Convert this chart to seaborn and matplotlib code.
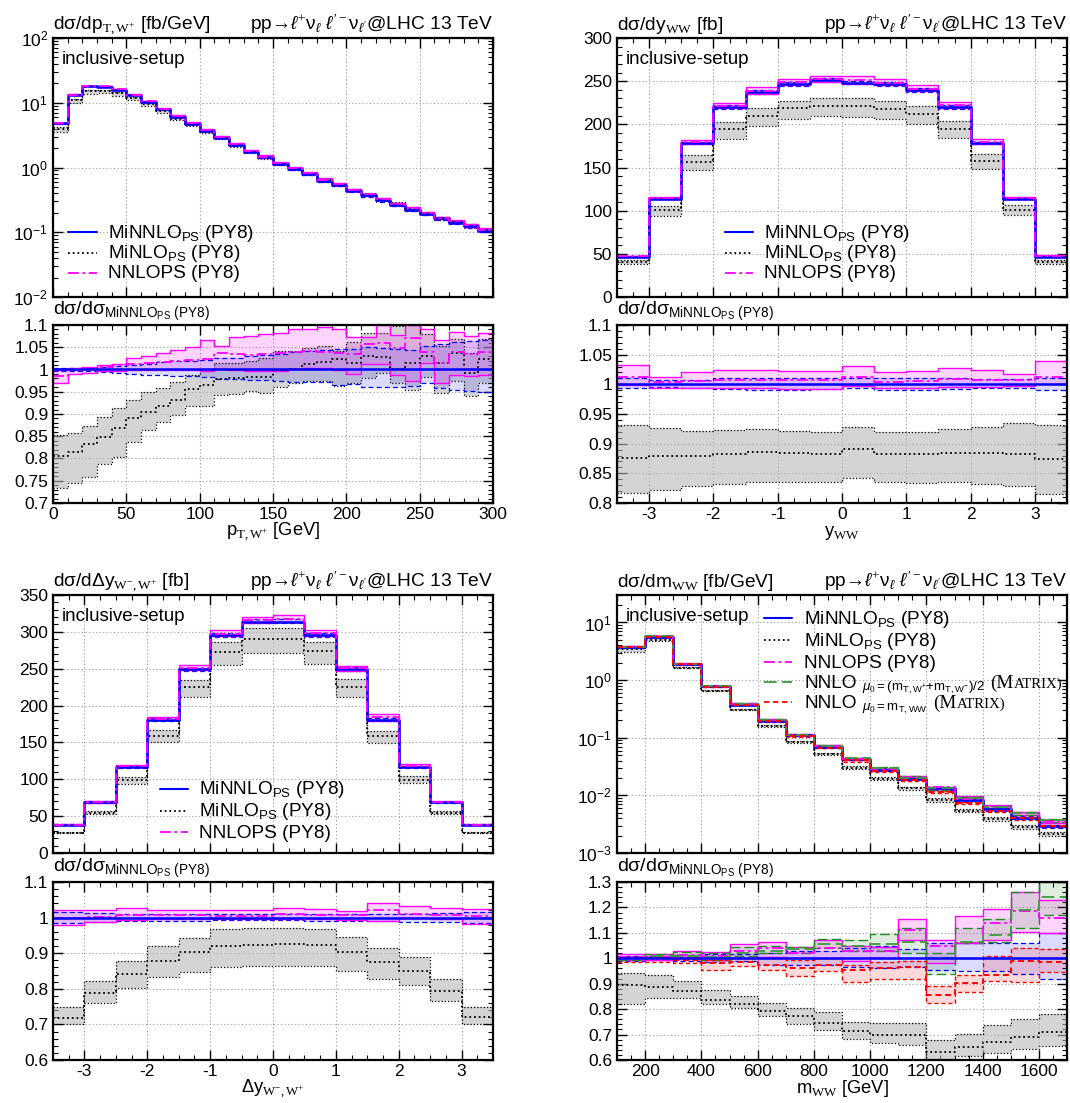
import numpy as np
import matplotlib
matplotlib.use("Agg")
import matplotlib.pyplot as plt
import seaborn as sns
from matplotlib.ticker import MultipleLocator, FuncFormatter, LogLocator, NullFormatter
from matplotlib.transforms import offset_copy

# ---------------- data ----------------
# panel 1 : pT,W+
pt_edges = list(range(0, 310, 10))
pt_minnlo = [4.9, 13.4, 18.0, 17.8, 16.0, 13.1, 10.4, 8.0, 6.1, 4.75, 3.66, 2.9, 2.23, 1.76, 1.43,
             1.14, 0.94, 0.78, 0.62, 0.53, 0.44, 0.37, 0.31, 0.264, 0.223, 0.191, 0.164, 0.141, 0.124, 0.106]
pt_minnlo_hi = [1.003, 1.003, 1.004, 1.006, 1.008, 1.010, 1.013, 1.016, 1.018, 1.020, 1.021, 1.025, 1.026, 1.030, 1.032,
                1.035, 1.040, 1.042, 1.043, 1.045, 1.045, 1.050, 1.048, 1.045, 1.044, 1.052, 1.058, 1.062, 1.064, 1.066]
pt_minnlo_lo = [0.997, 0.997, 0.996, 0.994, 0.992, 0.990, 0.988, 0.987, 0.986, 0.985, 0.983, 0.979, 0.978, 0.977, 0.976,
                0.974, 0.973, 0.972, 0.971, 0.966, 0.968, 0.961, 0.961, 0.961, 0.962, 0.970, 0.958, 0.953, 0.952, 0.950]
pt_minlo_c = [0.806, 0.815, 0.833, 0.848, 0.869, 0.891, 0.905, 0.919, 0.932, 0.957, 0.966, 0.979, 0.981, 0.984, 0.984,
              0.999, 1.000, 1.012, 1.017, 1.023, 1.015, 1.031, 1.027, 1.000, 1.015, 1.031, 1.015, 1.038, 0.993, 1.023]
pt_minlo_hi = [0.852, 0.857, 0.872, 0.893, 0.913, 0.932, 0.950, 0.959, 0.972, 0.987, 1.000, 1.015, 1.014, 1.019, 1.025,
               1.042, 1.042, 1.049, 1.053, 1.042, 1.061, 1.083, 1.083, 1.098, 1.100, 1.080, 1.053, 1.068, 1.038, 1.068]
pt_minlo_lo = [0.734, 0.745, 0.759, 0.787, 0.804, 0.837, 0.865, 0.883, 0.898, 0.919, 0.919, 0.942, 0.945, 0.951, 0.948,
               0.961, 0.970, 0.974, 0.974, 0.963, 0.969, 0.982, 0.993, 0.970, 0.955, 0.983, 0.948, 0.974, 0.940, 0.970]
pt_nnlops_c = [0.985, 0.998, 1.003, 1.006, 1.009, 1.012, 1.014, 1.017, 1.019, 1.021, 1.024, 1.036, 1.034, 1.033, 1.034,
               1.036, 1.040, 1.042, 1.040, 1.038, 1.035, 1.058, 1.060, 1.048, 1.070, 1.040, 1.015, 1.040, 1.035, 1.040]
pt_nnlops_hi = [0.998, 1.003, 1.005, 1.009, 1.013, 1.025, 1.030, 1.038, 1.044, 1.050, 1.067, 1.053, 1.073, 1.075, 1.080,
                1.082, 1.092, 1.092, 1.096, 1.092, 1.072, 1.072, 1.100, 1.078, 1.100, 1.092, 1.066, 1.085, 1.075, 1.082]
pt_nnlops_lo = [0.970, 0.990, 0.993, 0.996, 0.997, 0.998, 0.998, 0.998, 0.999, 0.999, 0.996, 1.000, 0.998, 0.996, 0.996,
                0.997, 1.001, 1.003, 1.003, 0.998, 0.990, 1.013, 1.013, 0.988, 0.975, 1.014, 0.970, 0.988, 0.985, 0.988]

# panel 2 : y_WW
yww_edges = [-3.5, -3.0, -2.5, -2.0, -1.5, -1.0, -0.5, 0.0, 0.5, 1.0, 1.5, 2.0, 2.5, 3.0, 3.5]
yww_minnlo = [46.5, 114, 178, 220, 237, 247, 251, 248, 247, 240, 220, 178, 114, 46.5]
yww_minnlo_hi = [1.011, 1.007, 1.008, 1.010, 1.011, 1.010, 1.011, 1.011, 1.010, 1.011, 1.010, 1.009, 1.009, 1.010]
yww_minnlo_lo = [0.994, 0.996, 0.993, 0.992, 0.991, 0.991, 0.992, 0.993, 0.991, 0.991, 0.992, 0.993, 0.994, 0.990]
yww_minlo_c = [0.876, 0.879, 0.880, 0.883, 0.886, 0.885, 0.883, 0.891, 0.883, 0.882, 0.885, 0.885, 0.883, 0.874]
yww_minlo_hi = [0.932, 0.927, 0.922, 0.923, 0.924, 0.921, 0.919, 0.928, 0.920, 0.920, 0.925, 0.928, 0.934, 0.932]
yww_minlo_lo = [0.817, 0.822, 0.828, 0.832, 0.836, 0.835, 0.835, 0.842, 0.835, 0.834, 0.836, 0.832, 0.829, 0.815]
yww_nnlops_c = [1.012, 1.004, 1.006, 1.007, 1.008, 1.007, 1.007, 1.012, 1.004, 1.005, 1.009, 1.008, 1.008, 1.013]
yww_nnlops_hi = [1.033, 1.012, 1.021, 1.024, 1.025, 1.023, 1.022, 1.031, 1.021, 1.023, 1.028, 1.025, 1.017, 1.039]
yww_nnlops_lo = [0.999, 0.993, 0.993, 0.993, 0.993, 0.992, 0.992, 0.997, 0.993, 0.993, 0.996, 0.996, 0.997, 1.000]

# panel 3 : Delta y W-,W+
dy_edges = [-3.5, -3.0, -2.5, -2.0, -1.5, -1.0, -0.5, 0.0, 0.5, 1.0, 1.5, 2.0, 2.5, 3.0, 3.5]
dy_minnlo = [38.5, 69, 117, 181, 249, 296, 314, 314, 296, 249, 181, 117, 69, 38.5]
dy_minnlo_hi = [1.015, 1.013, 1.011, 1.011, 1.010, 1.010, 1.010, 1.011, 1.010, 1.011, 1.010, 1.011, 1.012, 1.015]
dy_minnlo_lo = [0.985, 0.988, 0.990, 0.991, 0.991, 0.992, 0.992, 0.992, 0.991, 0.991, 0.990, 0.989, 0.988, 0.985]
dy_minlo_c = [0.718, 0.787, 0.841, 0.878, 0.902, 0.920, 0.924, 0.925, 0.924, 0.904, 0.876, 0.850, 0.793, 0.720]
dy_minlo_hi = [0.749, 0.822, 0.878, 0.921, 0.944, 0.968, 0.971, 0.972, 0.967, 0.946, 0.916, 0.888, 0.828, 0.749]
dy_minlo_lo = [0.702, 0.760, 0.803, 0.833, 0.848, 0.861, 0.864, 0.864, 0.864, 0.849, 0.828, 0.812, 0.767, 0.702]
dy_nnlops_c = [1.000, 1.003, 1.006, 1.006, 1.006, 1.005, 1.005, 1.010, 1.008, 1.006, 1.020, 1.010, 1.006, 1.004]
dy_nnlops_hi = [1.021, 1.022, 1.026, 1.022, 1.022, 1.021, 1.021, 1.027, 1.024, 1.018, 1.041, 1.032, 1.026, 1.025]
dy_nnlops_lo = [0.978, 0.988, 0.993, 0.995, 0.995, 0.995, 0.995, 0.996, 0.995, 0.992, 0.990, 1.000, 0.995, 0.982]

# panel 4 : m_WW
mww_edges = [100, 200, 300, 400, 500, 600, 700, 800, 900, 1000, 1100, 1200, 1300, 1400, 1500, 1600, 1700]
mww_minnlo = [3.8, 5.7, 1.89, 0.78, 0.376, 0.199, 0.110, 0.069, 0.0423, 0.028, 0.0191, 0.0132, 0.0083, 0.0057, 0.0041, 0.0030]
mww_minnlo_hi = [1.010, 1.010, 1.012, 1.015, 1.015, 1.020, 1.030, 1.030, 1.040, 1.050, 1.035, 1.060, 1.060, 1.060, 1.060, 1.100]
mww_minnlo_lo = [0.990, 0.994, 0.990, 0.985, 0.990, 0.975, 0.975, 0.975, 0.965, 0.960, 0.965, 0.955, 0.950, 0.950, 0.940, 0.920]
mww_minlo_c = [0.895, 0.889, 0.873, 0.836, 0.819, 0.792, 0.772, 0.746, 0.713, 0.700, 0.697, 0.630, 0.650, 0.670, 0.690, 0.710]
mww_minlo_hi = [0.942, 0.935, 0.911, 0.876, 0.852, 0.823, 0.803, 0.787, 0.750, 0.744, 0.746, 0.679, 0.703, 0.739, 0.760, 0.780]
mww_minlo_lo = [0.819, 0.842, 0.842, 0.820, 0.803, 0.772, 0.743, 0.719, 0.683, 0.666, 0.659, 0.580, 0.614, 0.626, 0.643, 0.657]
mww_nnlops_c = [1.005, 1.005, 1.012, 1.010, 1.030, 1.040, 1.020, 1.040, 1.030, 1.030, 1.110, 1.050, 1.060, 1.140, 1.185, 1.160]
mww_nnlops_hi = [1.018, 1.015, 1.030, 1.025, 1.055, 1.065, 1.045, 1.070, 1.050, 1.045, 1.155, 1.070, 1.165, 1.195, 1.260, 1.230]
mww_nnlops_lo = [0.995, 0.995, 1.000, 0.995, 1.000, 1.005, 1.000, 1.000, 0.990, 1.000, 1.070, 0.980, 1.060, 1.070, 1.105, 1.100]
mww_nnlo1_c = [1.000, 1.010, 1.010, 1.005, 1.020, 1.030, 1.035, 1.055, 1.050, 1.055, 1.065, 1.000, 1.065, 1.090, 1.190, 1.240]
mww_nnlo1_hi = [1.005, 1.015, 1.025, 1.020, 1.045, 1.050, 1.045, 1.075, 1.070, 1.095, 1.120, 1.020, 1.120, 1.155, 1.260, 1.300]
mww_nnlo1_lo = [0.995, 1.000, 1.000, 0.995, 1.010, 1.020, 1.020, 1.040, 1.030, 1.030, 1.020, 0.940, 1.060, 1.065, 1.120, 1.170]
mww_nnlo2_c = [1.000, 1.000, 0.995, 0.980, 0.985, 0.975, 0.960, 0.975, 0.955, 0.960, 0.965, 0.855, 0.902, 0.935, 0.990, 0.985]
mww_nnlo2_hi = [1.005, 1.005, 1.005, 0.995, 1.000, 1.000, 0.995, 1.000, 0.975, 0.985, 0.990, 0.890, 0.935, 1.008, 1.040, 1.035]
mww_nnlo2_lo = [0.985, 0.985, 0.980, 0.955, 0.970, 0.955, 0.930, 0.950, 0.905, 0.920, 0.920, 0.825, 0.869, 0.909, 0.905, 0.945]

lab_minnlo = r"MiNNLO$_{\mathsf{PS}}$ (PY8)"
lab_minlo = r"MiNLO$_{\mathsf{PS}}$ (PY8)"
lab_nnlops = "NNLOPS (PY8)"
lab_nnlo = "NNLO"
lab_nnlo1_sub = r"$\mu_0\mathsf{=(m}_{\mathsf{T,W^{+}}}\mathsf{+m}_{\mathsf{T,W^{-}}}\mathsf{)/2}$"
lab_nnlo2_sub = r"$\mu_0\mathsf{=m}_{\mathsf{T,WW}}$"
lab_matrix = ("(M", "ATRIX)")

# ---------------- style ----------------
sns.set_style("ticks")
plt.rcParams.update({
    "font.family": ["Liberation Sans", "DejaVu Sans"],
    "mathtext.fontset": "custom",
    "mathtext.rm": "Liberation Serif",
    "mathtext.sf": "Liberation Sans",
    "mathtext.it": "Liberation Sans:italic",
    "mathtext.bf": "Liberation Sans:bold",
    "xtick.direction": "in", "ytick.direction": "in",
    "xtick.top": True, "ytick.right": True,
    "xtick.major.size": 7, "ytick.major.size": 7,
    "xtick.minor.size": 3.5, "ytick.minor.size": 3.5,
    "xtick.major.width": 1.0, "ytick.major.width": 1.0,
    "xtick.minor.width": 0.8, "ytick.minor.width": 0.8,
    "xtick.labelsize": 12.5, "ytick.labelsize": 12.5,
    "xtick.major.pad": 3.0, "ytick.major.pad": 3.5,
    "xtick.color": "black", "ytick.color": "black",
    "axes.edgecolor": "black", "axes.linewidth": 1.6,
    "text.color": "black",
})

STY = {
    "minlo": dict(fc="#b8b8b8", alpha=0.6, ec="black", els=(0, (1, 1.6)), elw=0.9,
                  cls=(0, (1, 1.6)), clw=1.3, cc="black"),
    "minnlo": dict(fc="#0000ff", alpha=0.14, ec="#0000ff", els=(0, (4, 2.5)), elw=0.9,
                   cls="-", clw=1.8, cc="#0000ff"),
    "nnlops": dict(fc="#ff00ff", alpha=0.17, ec="#ff00ff", els="-", elw=1.0,
                   cls=(0, (6, 2, 1.5, 2)), clw=1.3, cc="#ff00ff"),
    "nnlo1": dict(fc="#228b22", alpha=0.15, ec="#228b22", els=(0, (7, 3)), elw=1.0,
                  cls=(0, (7, 3)), clw=1.3, cc="#3c9a3c"),
    "nnlo2": dict(fc="#ff0000", alpha=0.15, ec="#ff0000", els=(0, (3, 2)), elw=1.0,
                  cls=(0, (3, 2)), clw=1.4, cc="#ff0000"),
}
LEG = {"minnlo": lab_minnlo, "minlo": lab_minlo, "nnlops": lab_nnlops,
       "nnlo1": lab_nnlo, "nnlo2": lab_nnlo}
SUB = {"nnlo1": lab_nnlo1_sub, "nnlo2": lab_nnlo2_sub}
LEG_FS = 13.7

W, H = 1070, 1103
fig = plt.figure(figsize=(W / 100, H / 100), dpi=100)
renderer = fig.canvas.get_renderer()


def rect(l, r, t, b):
    return [l / W, 1 - b / H, (r - l) / W, (b - t) / H]


def steps(ax, edges, vals, **kw):
    x = np.asarray(edges, float)
    y = np.append(np.asarray(vals, float), vals[-1])
    sns.lineplot(x=x, y=y, drawstyle="steps-post", ax=ax, legend=False,
                 errorbar=None, sort=False, **kw)


def band(ax, edges, lo, hi, s):
    x = np.asarray(edges, float)
    lo2 = np.append(np.asarray(lo, float), lo[-1])
    hi2 = np.append(np.asarray(hi, float), hi[-1])
    ax.fill_between(x, lo2, hi2, step="post", facecolor=s["fc"], alpha=s["alpha"], linewidth=0)
    steps(ax, edges, lo, color=s["ec"], linestyle=s["els"], linewidth=s["elw"])
    steps(ax, edges, hi, color=s["ec"], linestyle=s["els"], linewidth=s["elw"])


def fmt_g(v, p):
    return f"{v:g}"


def fmt_log(v, p):
    if v <= 0:
        return ""
    e = int(round(np.log10(v)))
    return f"10$^{{\\mathsf{{{e}}}}}$"


def style_axis(ax):
    ax.grid(True, which="major", linestyle=(0, (1, 2.2)), color="#9a9a9a", linewidth=0.8)
    ax.set_axisbelow(True)
    ax.tick_params(which="both", direction="in", top=True, right=True)
    for sp in ax.spines.values():
        sp.set_linewidth(1.6)
        sp.set_zorder(10)


def chain_text(ax, x, y, xoff, s, **kw):
    t = ax.text(x, y, s, transform=offset_copy(ax.transAxes, fig=fig, x=xoff[0], y=xoff[1], units="dots"),
                ha="left", va="baseline", **kw)
    return t.get_window_extent(renderer=renderer).width


def panel(col, row, edges, base, series, xlim, xmaj, xmin, ylim, log, ymaj, ymin,
          rlim, rmaj, rmin, title, xlabel, leg_x, leg_rows):
    l, r = [(53, 493), (617, 1067)][col]
    (mt, mb), (rt, rb) = [((38, 297), (325, 503)), ((595, 853), (882, 1060))][row]
    axm = fig.add_axes(rect(l, r, mt, mb))
    axr = fig.add_axes(rect(l, r, rt, rb))
    base = np.asarray(base, float)

    for key, c, lo, hi in series:
        s = STY[key]
        band(axm, edges, base * np.asarray(lo), base * np.asarray(hi), s)
        band(axr, edges, lo, hi, s)
    for key, c, lo, hi in series:
        s = STY[key]
        steps(axm, edges, base * np.asarray(c), color=s["cc"], linestyle=s["cls"], linewidth=s["clw"])
        if key != "minnlo":
            steps(axr, edges, c, color=s["cc"], linestyle=s["cls"], linewidth=s["clw"])
    for key, c, lo, hi in series:
        if key == "minnlo":
            s = STY[key]
            steps(axr, edges, c, color=s["cc"], linestyle=s["cls"], linewidth=s["clw"])

    for ax in (axm, axr):
        ax.set_xlim(*xlim)
        ax.xaxis.set_major_locator(MultipleLocator(xmaj))
        ax.xaxis.set_minor_locator(MultipleLocator(xmin))
        ax.set_xlabel("")
        ax.set_ylabel("")
        style_axis(ax)
    axm.tick_params(labelbottom=False)
    axr.xaxis.set_major_formatter(FuncFormatter(fmt_g))

    if log:
        axm.set_yscale("log")
        axm.set_ylim(*ylim)
        axm.yaxis.set_major_locator(LogLocator(base=10, numticks=12))
        axm.yaxis.set_minor_locator(LogLocator(base=10, subs=np.arange(2, 10), numticks=12))
        axm.yaxis.set_major_formatter(FuncFormatter(fmt_log))
        axm.yaxis.set_minor_formatter(NullFormatter())
    else:
        axm.set_ylim(*ylim)
        axm.yaxis.set_major_locator(MultipleLocator(ymaj))
        axm.yaxis.set_minor_locator(MultipleLocator(ymin))
        axm.yaxis.set_major_formatter(FuncFormatter(fmt_g))
    axr.set_ylim(*rlim)
    axr.yaxis.set_major_locator(MultipleLocator(rmaj))
    axr.yaxis.set_minor_locator(MultipleLocator(rmin))
    axr.yaxis.set_major_formatter(FuncFormatter(fmt_g))

    # texts
    axm.annotate(title, xy=(0, 1), xycoords="axes fraction", xytext=(0, 6),
                 textcoords="offset points", ha="left", va="baseline", fontsize=13.8)
    axm.annotate(r"pp→$\ell^{+}$ν$_{\ell}$ $\ell^{\prime -}$ν$_{\ell^{\prime}}$@LHC 13 TeV",
                 xy=(1, 1), xycoords="axes fraction", xytext=(0, 6),
                 textcoords="offset points", ha="right", va="baseline", fontsize=13.8)
    axm.annotate("inclusive-setup", xy=(0, 1), xycoords="axes fraction", xytext=(6.5, -18.5),
                 textcoords="offset points", ha="left", va="baseline", fontsize=13.5)
    axr.annotate(r"dσ/dσ$_{\mathsf{MiNNLO_{PS}}\ \mathsf{(PY8)}}$", xy=(0, 1), xycoords="axes fraction",
                 xytext=(0, 7), textcoords="offset points", ha="left", va="baseline", fontsize=14)
    axr.annotate(xlabel, xy=(0.5, 0), xycoords="axes fraction", xytext=(0, -23.5),
                 textcoords="offset points", ha="center", va="baseline", fontsize=13.2)

    # manual legend (pixel offsets from axes top-left)
    axw, axh = r - l, mb - mt
    hx0, hx1, tx = leg_x
    for (key, _c, _lo, _hi), yrow in zip(leg_rows[0], leg_rows[1]):
        s = STY[key]
        yf = 1 - yrow / axh
        axm.plot([(hx0 - l) / axw, (hx1 - l) / axw], [yf, yf], transform=axm.transAxes,
                 color=s["cc"], linestyle=s["cls"], linewidth=1.3 if key != "minnlo" else 1.5,
                 clip_on=False)
        yb = yf - 5.5 / axh
        xa = (tx - l) / axw
        w = chain_text(axm, xa, yb, (0, 0), LEG[key], fontsize=LEG_FS)
        if key in SUB:
            w += 6
            w += chain_text(axm, xa, yb, (w, -3.5), SUB[key], fontsize=9.6) + 5
            w += chain_text(axm, xa, yb, (w, 0), lab_matrix[0], fontsize=LEG_FS, family="Liberation Serif")
            chain_text(axm, xa, yb, (w, 0), lab_matrix[1], fontsize=LEG_FS * 0.78, family="Liberation Serif")
    return axm, axr


ones_pt = np.ones(len(pt_minnlo))
s1 = [("minlo", pt_minlo_c, pt_minlo_lo, pt_minlo_hi),
      ("minnlo", ones_pt, pt_minnlo_lo, pt_minnlo_hi),
      ("nnlops", pt_nnlops_c, pt_nnlops_lo, pt_nnlops_hi)]
panel(0, 0, pt_edges, pt_minnlo, s1, (0, 300), 50, 10, (1e-2, 1e2), True, None, None,
      (0.7, 1.1), 0.05, 0.01, r"dσ/dp$_{\mathrm{T,W^{+}}}$ [fb/GeV]", r"p$_{\mathrm{T,W^{+}}}$ [GeV]",
      (68, 97, 108), ([s1[1], s1[0], s1[2]], [194, 215, 235]))

ones_y = np.ones(len(yww_minnlo))
s2 = [("minlo", yww_minlo_c, yww_minlo_lo, yww_minlo_hi),
      ("minnlo", ones_y, yww_minnlo_lo, yww_minnlo_hi),
      ("nnlops", yww_nnlops_c, yww_nnlops_lo, yww_nnlops_hi)]
panel(1, 0, yww_edges, yww_minnlo, s2, (-3.5, 3.5), 1, 0.25, (0, 300), False, 50, 10,
      (0.8, 1.1), 0.05, 0.01, r"dσ/dy$_{\mathrm{WW}}$ [fb]", r"y$_{\mathrm{WW}}$",
      (725, 753, 764), ([s2[1], s2[0], s2[2]], [194, 215, 235]))

ones_dy = np.ones(len(dy_minnlo))
s3 = [("minlo", dy_minlo_c, dy_minlo_lo, dy_minlo_hi),
      ("minnlo", ones_dy, dy_minnlo_lo, dy_minnlo_hi),
      ("nnlops", dy_nnlops_c, dy_nnlops_lo, dy_nnlops_hi)]
panel(0, 1, dy_edges, dy_minnlo, s3, (-3.5, 3.5), 1, 0.25, (0, 350), False, 50, 10,
      (0.6, 1.1), 0.1, 0.02, r"dσ/dΔy$_{\mathrm{W^{-},W^{+}}}$ [fb]", r"Δy$_{\mathrm{W^{-},W^{+}}}$",
      (160, 188, 199), ([s3[1], s3[0], s3[2]], [194, 216, 237]))

ones_m = np.ones(len(mww_minnlo))
s4 = [("minlo", mww_minlo_c, mww_minlo_lo, mww_minlo_hi),
      ("minnlo", ones_m, mww_minnlo_lo, mww_minnlo_hi),
      ("nnlops", mww_nnlops_c, mww_nnlops_lo, mww_nnlops_hi),
      ("nnlo1", mww_nnlo1_c, mww_nnlo1_lo, mww_nnlo1_hi),
      ("nnlo2", mww_nnlo2_c, mww_nnlo2_lo, mww_nnlo2_hi)]
panel(1, 1, mww_edges, mww_minnlo, s4, (100, 1700), 200, 50, (1e-3, 30), True, None, None,
      (0.6, 1.3), 0.1, 0.02, r"dσ/dm$_{\mathrm{WW}}$ [fb/GeV]", r"m$_{\mathrm{WW}}$ [GeV]",
      (764, 792, 804), ([s4[1], s4[0], s4[2], s4[3], s4[4]], [23, 45, 67, 87, 107]))

fig.savefig("out.png", dpi=100)
